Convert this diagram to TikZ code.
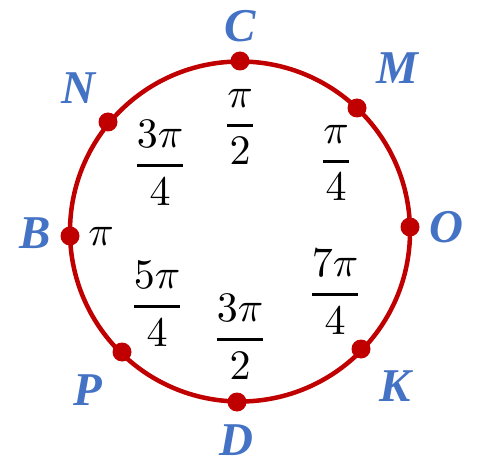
\documentclass[tikz,border=0pt]{standalone}
\usepackage{amsmath}
\usepackage{fontspec}
\newfontfamily\labfont{Liberation Serif}
\definecolor{cred}{HTML}{C00000}
\definecolor{cblue}{HTML}{4472C4}
\newcommand{\angtxt}[1]{\scalebox{4.2}{$\displaystyle #1$}}
\newcommand{\angfrac}[2]{\scalebox{4.2}{$\displaystyle\genfrac{}{}{0.7pt}{}{#1}{#2}$}}
\begin{document}
\begin{tikzpicture}[x=1pt,y=-1pt,
  pt/.style={circle,fill=cred,inner sep=0pt,minimum size=19pt},
  lab/.style={text=cblue,font=\labfont\bfseries\itshape\fontsize{47}{52}\selectfont,inner sep=0pt},
  ang/.style={inner sep=0pt}]
\useasboundingbox (0,0) rectangle (482,468);
\draw[cred,line width=4.5pt] (240,231.5) circle (170);
\node[pt] (C) at (240,61) {};
\node[pt] (M) at (357,108) {};
\node[pt] (O) at (410,227) {};
\node[pt] (K) at (361,349) {};
\node[pt] (D) at (237,402) {};
\node[pt] (P) at (122,352) {};
\node[pt] (B) at (70,236) {};
\node[pt] (N) at (108,122) {};
\node[lab] (lC) at (240,26) {C};
\node[lab] (lM) at (397,68) {M};
\node[lab] (lO) at (446,227) {O};
\node[lab] (lK) at (395,386) {K};
\node[lab] (lD) at (236,440) {D};
\node[lab] (lP) at (88,390) {P};
\node[lab] (lB) at (35,233) {B};
\node[lab] (lN) at (78,88) {N};
\node[ang] (a1) at (240,127) {\angfrac{\pi}{2}};
\node[ang] (a2) at (160,163) {\angfrac{3\pi}{4}};
\node[ang] (a3) at (336,163) {\angfrac{\pi}{4}};
\node[ang] (a4) at (101,236) {\angtxt{\pi}};
\node[ang] (a5) at (157,304) {\angfrac{5\pi}{4}};
\node[ang] (a6) at (240,337) {\angfrac{3\pi}{2}};
\node[ang] (a7) at (335,292) {\angfrac{7\pi}{4}};
\end{tikzpicture}
\end{document}
